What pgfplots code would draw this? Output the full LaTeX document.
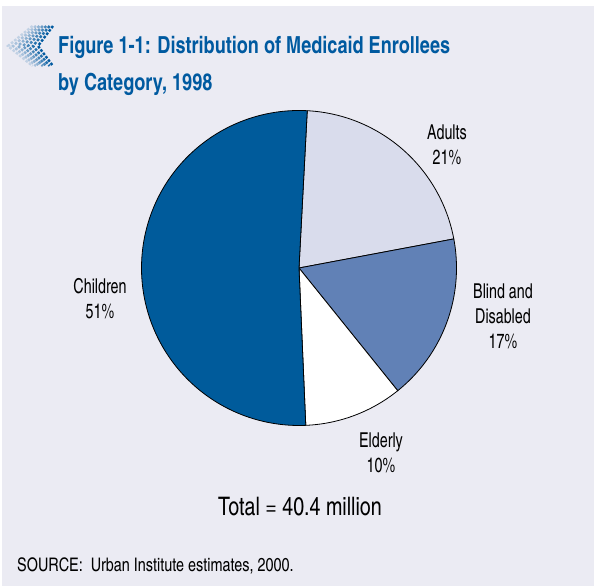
\documentclass[border=0pt]{standalone}
\usepackage{fontspec}
\setmainfont{texgyreheroscn}[Extension=.otf, UprightFont=*-regular, BoldFont=*-bold]
\newfontfamily\cnlab{texgyreheroscn}[Extension=.otf, UprightFont=*-regular, BoldFont=*-bold, FakeStretch=0.85]
\newfontfamily\cntitle{texgyreheroscn}[Extension=.otf, UprightFont=*-regular, BoldFont=*-bold, FakeStretch=0.94]
\usepackage{pgfplots}
\usepackage{pgfplotstable}
\pgfplotsset{compat=1.18}
\definecolor{bgc}{RGB}{235,235,243}
\definecolor{cChildren}{RGB}{0,91,155}
\definecolor{cAdults}{RGB}{217,220,236}
\definecolor{cBlind}{RGB}{97,129,182}
\definecolor{cElderly}{RGB}{255,255,255}
\definecolor{titleblue}{RGB}{0,90,160}

\pgfplotstableread{
cat pct
Adults 21
Blind 17
Elderly 10
Children 51
}\piedata

\begin{document}
\begin{tikzpicture}[x=1bp,y=1bp]
\fill[white] (0,0) rectangle (594,586);
\fill[bgc] (2,0) rectangle (594,580);
% chevron icon (halftone look)
\foreach \k/\c in {0/100,1/85,2/70,3/55,4/40,5/28,6/18}{
  \draw[titleblue!\c!bgc, line width=2.4bp, dash pattern=on 2.6bp off 1.6bp, line join=miter]
    ({53-3.4*\k},560) -- ({38-5*\k},540) -- ({53-3.4*\k},520);
}
% title
\node[anchor=base west, font=\cntitle\bfseries\fontsize{23.5bp}{28bp}\selectfont, text=titleblue, inner sep=0] at (58,532) {Figure 1-1: Distribution of Medicaid Enrollees};
\node[anchor=base west, font=\cntitle\bfseries\fontsize{23.5bp}{28bp}\selectfont, text=titleblue, inner sep=0] at (58,495) {by Category, 1998};

\pgfplotstablegetelem{0}{pct}\of\piedata \edef\pA{\pgfplotsretval}
\pgfplotstablegetelem{1}{pct}\of\piedata \edef\pB{\pgfplotsretval}
\pgfplotstablegetelem{2}{pct}\of\piedata \edef\pC{\pgfplotsretval}
\pgfplotstablegetelem{3}{pct}\of\piedata \edef\pD{\pgfplotsretval}
\pgfmathsetmacro\tot{\pA+\pB+\pC+\pD}
\pgfmathsetmacro\kk{360/\tot}
\pgfmathsetmacro\aO{87}
\pgfmathsetmacro\aA{\aO-\kk*\pA}
\pgfmathsetmacro\aB{\aA-\kk*\pB}
\pgfmathsetmacro\aC{\aB-\kk*\pC}
\pgfmathsetmacro\aD{\aC-\kk*\pD}

\begin{axis}[at={(299bp,318bp)}, anchor=center, scale only axis, width=315bp, height=315bp,
  xmin=-1, xmax=1, ymin=-1, ymax=1, hide axis, clip=false]
\addplot[fill=cAdults, draw=black, line width=0.8bp, domain=\aA:\aO, samples=90, variable=\t] ({cos(\t)},{sin(\t)}) -- (0,0) -- cycle;
\addplot[fill=cBlind, draw=black, line width=0.8bp, domain=\aB:\aA, samples=90, variable=\t] ({cos(\t)},{sin(\t)}) -- (0,0) -- cycle;
\addplot[fill=cElderly, draw=black, line width=0.8bp, domain=\aC:\aB, samples=60, variable=\t] ({cos(\t)},{sin(\t)}) -- (0,0) -- cycle;
\addplot[fill=cChildren, draw=black, line width=0.8bp, domain=\aD:\aC, samples=180, variable=\t] ({cos(\t)},{sin(\t)}) -- (0,0) -- cycle;
\end{axis}

\tikzset{lab/.style={align=center, font=\cnlab\fontsize{20.5bp}{25bp}\selectfont, inner sep=0}}
\node[lab] at (447,441) {Adults\\21\%};
\node[lab] at (503,270) {Blind and\\Disabled\\17\%};
\node[lab] at (100,287.5) {Children\\51\%};
\node[lab] at (381,133.5) {Elderly\\10\%};
\node[font=\cntitle\fontsize{25.5bp}{30bp}\selectfont, inner sep=0] at (300,79) {Total = 40.4 million};
\node[anchor=west, font=\cntitle\fontsize{18.7bp}{20bp}\selectfont, inner sep=0] at (17,20) {SOURCE:\ \ Urban Institute estimates, 2000.};
\end{tikzpicture}
\end{document}
